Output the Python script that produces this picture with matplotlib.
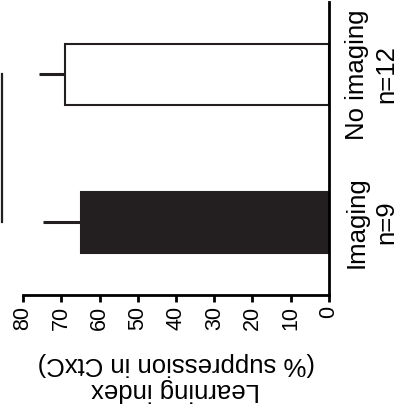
import matplotlib
matplotlib.use('Agg')
import matplotlib.pyplot as plt

plt.rcParams['font.family'] = ['Liberation Sans', 'DejaVu Sans']

# data
groups = ['Imaging\nn=9', 'No imaging\nn=12']
means = [64.8, 69.1]
errors = [9.9, 6.6]
colors = ['#231f20', 'white']
ticks = [0, 10, 20, 30, 40, 50, 60, 70, 80]

fig = plt.figure(figsize=(4.01, 4.18), dpi=100)
ax = fig.add_axes([0.0574, 0.2943, 0.763, 0.701])

pos = list(range(len(groups)))
ax.barh(pos, means, height=0.41, color=colors, edgecolor='#231f20',
        linewidth=1.5, zorder=2)
ax.errorbar(means, pos, xerr=[[0] * len(errors), errors], fmt='none',
            ecolor='#231f20', elinewidth=2.2, capsize=0, zorder=1)

# significance bracket
ax.plot([85.5, 85.5], [0, 1], color='#231f20', lw=1.6, clip_on=False)

ax.set_xlim(80, 0)
ax.set_ylim(-0.49, 1.49)
ax.set_xticks(ticks)
ax.set_xticklabels([str(t) for t in ticks], rotation=90, fontsize=15.5)
ax.tick_params(axis='x', direction='out', length=5, width=2, pad=3)
ax.set_yticks([])

for side in ['top', 'left']:
    ax.spines[side].set_visible(False)
ax.spines['bottom'].set_linewidth(2)
ax.spines['right'].set_linewidth(2)

ax.set_xlabel('Learning index\n(% suppression in CtxC)', rotation=180,
              fontsize=18.5, labelpad=16, linespacing=1.1)

for p, g in zip(pos, groups):
    ax.annotate(g, xy=(0, p), xytext=(11.5, 0), textcoords='offset points',
                ha='left', va='center', rotation=90, fontsize=18.5,
                multialignment='center', linespacing=1.3,
                annotation_clip=False)

fig.savefig('out.png', dpi=100)
